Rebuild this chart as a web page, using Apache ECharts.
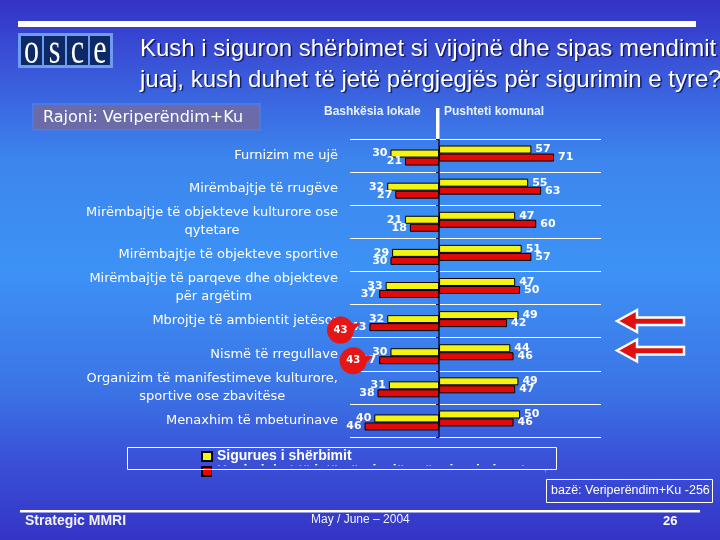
<!DOCTYPE html>
<html><head><meta charset="utf-8">
<script src="https://cdn.jsdelivr.net/npm/echarts@6/dist/echarts.min.js"></script>
<style>html,body{margin:0;padding:0;overflow:hidden}#c{width:720px;height:540px;}</style>
</head><body><div id="c"></div>
<script>
const categories = [
  "Furnizim me ujë",
  "Mirëmbajtje të rrugëve",
  "Mirëmbajtje të objekteve kulturore ose\nqytetare",
  "Mirëmbajtje të objekteve sportive",
  "Mirëmbajtje të parqeve dhe objekteve\npër argëtim",
  "Mbrojtje të ambientit jetësor",
  "Nismë të rregullave",
  "Organizim të manifestimeve kulturore,\nsportive ose zbavitëse",
  "Menaxhim të mbeturinave"
];
const localProvider = [30, 32, 21, 29, 33, 32, 30, 31, 40];
const localResponsible = [21, 27, 18, 30, 37, 43, 37, 38, 46];
const municipalProvider = [57, 55, 47, 51, 47, 49, 44, 49, 50];
const municipalResponsible = [71, 63, 60, 57, 50, 42, 46, 47, 46];
const calloutCategories = [5, 6];
const calloutBars = [43, 37];
const calloutValues = [43, 43];

const nameProvider = "Sigurues i shërbimit";
const nameResponsible = "Kush duhet të jetë përgjegjës për sigurimin e tyre";

const bgStops = [
  {offset: 0, color: '#3332c6'},
  {offset: 0.12, color: '#3a54d8'},
  {offset: 0.3, color: '#3c86ee'},
  {offset: 0.5, color: '#3d92f6'},
  {offset: 0.72, color: '#3b74e6'},
  {offset: 0.86, color: '#3a4fd6'},
  {offset: 1, color: '#3434c6'}
];
const bgGrad = () => ({type: 'linear', x: 0, y: 0, x2: 0, y2: 540, global: true, colorStops: bgStops});

const YELLOW = '#f4f410', RED = '#e00a0a', CALLOUT = '#e61616';
const valLabel = (pos, dist) => ({
  show: true, position: pos, distance: dist, color: '#ffffff',
  fontFamily: 'DejaVu Sans', fontWeight: 'bold', fontSize: 11,
  formatter: p => Math.abs(p.value)
});
const barBase = {type: 'bar', barWidth: 8, barGap: '-50%', yAxisIndex: 0, xAxisIndex: 0};

const chart = echarts.init(document.getElementById('c'), null, {renderer: 'canvas'});
const option = {
  animation: false,
  grid: {left: 350, right: 119, top: 139, height: 298, containLabel: false},
  xAxis: {type: 'value', min: -55, max: 100, show: true,
    axisLine: {show: false}, axisTick: {show: false}, axisLabel: {show: false}, splitLine: {show: false}},
  yAxis: [
    {
      type: 'category', inverse: true, data: categories,
      axisLine: {show: false, onZero: false}, axisTick: {show: false},
      splitLine: {show: true, lineStyle: {color: '#ffffff', width: 1}},
      axisLabel: {
        margin: 12, align: 'right',
        formatter: v => v.split('\n').map(l => '{c|' + l + '}').join('\n'),
        rich: {c: {align: 'center', color: '#ffffff', fontSize: 13, fontFamily: 'DejaVu Sans', lineHeight: 18}}
      }
    },
    {
      type: 'category', inverse: true, data: categories, position: 'left',
      axisLine: {show: true, onZero: true, onZeroAxisIndex: 0, lineStyle: {color: '#101048', width: 1.5}},
      axisTick: {show: true, length: 3, lineStyle: {color: '#101048'}},
      axisLabel: {show: false}, splitLine: {show: false}
    }
  ],
  legend: {
    data: [nameProvider, nameResponsible], orient: 'vertical', left: 201, top: 449,
    padding: 0, itemGap: 0, itemWidth: 10, itemHeight: 9, icon: 'rect',
    textStyle: {color: '#ffffff', fontFamily: 'Liberation Sans', fontWeight: 'bold', fontSize: 14, lineHeight: 15}
  },
  series: [
    Object.assign({}, barBase, {name: nameProvider, data: municipalProvider,
      itemStyle: {color: YELLOW, borderColor: '#000', borderWidth: 1}, label: valLabel('right', 4)}),
    Object.assign({}, barBase, {name: nameProvider, data: localProvider.map(v => -v),
      itemStyle: {color: YELLOW, borderColor: '#000', borderWidth: 1}, label: valLabel('left', 3)}),
    Object.assign({}, barBase, {name: nameResponsible, data: municipalResponsible,
      itemStyle: {color: RED, borderColor: '#000', borderWidth: 1}, label: valLabel('right', 4)}),
    Object.assign({}, barBase, {name: nameResponsible, data: localResponsible.map(v => -v),
      itemStyle: {color: RED, borderColor: '#000', borderWidth: 1}, label: valLabel('left', 3),
      markPoint: {
        itemStyle: {color: CALLOUT},
        label: {show: true, color: '#ffffff', fontSize: 10, fontWeight: 'bold', fontFamily: 'DejaVu Sans', formatter: p => p.value},
        data: [
          {coord: [-calloutBars[0], calloutCategories[0]], symbol: 'triangle', symbolSize: [11, 13], symbolRotate: -65, symbolOffset: [-15, -1], label: {show: false}},
          {coord: [-calloutBars[1], calloutCategories[1]], symbol: 'triangle', symbolSize: [11, 13], symbolRotate: -65, symbolOffset: [-12, -2], label: {show: false}},
          {coord: [-calloutBars[0], calloutCategories[0]], value: calloutValues[0], symbol: 'circle', symbolSize: 27, symbolOffset: [-29, 3]},
          {coord: [-calloutBars[1], calloutCategories[1]], value: calloutValues[1], symbol: 'circle', symbolSize: 27, symbolOffset: [-26, 0.5]}
        ]
      }})
  ],
  graphic: [
    {type: 'rect', z: -100, silent: true, shape: {x: 0, y: 0, width: 720, height: 540}, style: {fill: bgGrad()}},
    {type: 'rect', z: 10, shape: {x: 18, y: 21, width: 678, height: 6}, style: {fill: '#ffffff'}},
    // OSCE logo
    {type: 'rect', z: 10, shape: {x: 18, y: 33, width: 95, height: 35}, style: {fill: '#6d9cf2'}},
    {type: 'rect', z: 11, shape: {x: 21, y: 36, width: 21, height: 29}, style: {fill: '#0e2a66'}},
    {type: 'rect', z: 11, shape: {x: 44, y: 36, width: 21, height: 29}, style: {fill: '#0e2a66'}},
    {type: 'rect', z: 11, shape: {x: 67, y: 36, width: 21, height: 29}, style: {fill: '#0e2a66'}},
    {type: 'rect', z: 11, shape: {x: 90, y: 36, width: 20, height: 29}, style: {fill: '#0e2a66'}},
    {type: 'text', z: 12, x: 31.5, y: 51, scaleY: 1.5, style: {text: 'o', fill: '#ffffff', font: '30px "Liberation Serif"', textAlign: 'center', textVerticalAlign: 'middle'}},
    {type: 'text', z: 12, x: 54.5, y: 51, scaleY: 1.5, style: {text: 's', fill: '#ffffff', font: '30px "Liberation Serif"', textAlign: 'center', textVerticalAlign: 'middle'}},
    {type: 'text', z: 12, x: 77.5, y: 51, scaleY: 1.5, style: {text: 'c', fill: '#ffffff', font: '30px "Liberation Serif"', textAlign: 'center', textVerticalAlign: 'middle'}},
    {type: 'text', z: 12, x: 100, y: 51, scaleY: 1.5, style: {text: 'e', fill: '#ffffff', font: '30px "Liberation Serif"', textAlign: 'center', textVerticalAlign: 'middle'}},
    // Title
    {type: 'text', z: 12, x: 140, y: 49, style: {text: 'Kush i siguron shërbimet si vijojnë dhe sipas mendimit', fill: '#ffffff', font: '24px "Liberation Sans"', textVerticalAlign: 'middle', textShadowColor: 'rgba(0,0,50,0.75)', textShadowOffsetX: 1.5, textShadowOffsetY: 1.5, textShadowBlur: 1}},
    {type: 'text', z: 12, x: 140, y: 80, style: {text: 'juaj, kush duhet të jetë përgjegjës për sigurimin e tyre?', fill: '#ffffff', font: '24px "Liberation Sans"', textVerticalAlign: 'middle', textShadowColor: 'rgba(0,0,50,0.75)', textShadowOffsetX: 1.5, textShadowOffsetY: 1.5, textShadowBlur: 1}},
    // Region box
    {type: 'rect', z: 10, shape: {x: 33, y: 104, width: 227, height: 26}, style: {fill: '#6a6ba8', stroke: '#4a7ae6', lineWidth: 2}},
    {type: 'text', z: 12, x: 43, y: 118, style: {text: 'Rajoni: Veriperëndim+Ku', fill: '#ffffff', font: '16px "DejaVu Sans"', textVerticalAlign: 'middle'}},
    // Column headers
    {type: 'text', z: 12, x: 324, y: 112, style: {text: 'Bashkësia lokale', fill: '#e6f2ff', font: 'bold 12px "Liberation Sans"', textVerticalAlign: 'middle'}},
    {type: 'text', z: 12, x: 444, y: 112, style: {text: 'Pushteti komunal', fill: '#e6f2ff', font: 'bold 12px "Liberation Sans"', textVerticalAlign: 'middle'}},
    {type: 'rect', z: 10, shape: {x: 436, y: 108, width: 3.5, height: 31}, style: {fill: '#ffffff'}},
    // Arrows
    {type: 'polygon', z: 10, shape: {points: [[617, 321], [637, 310], [637, 317.5], [684, 317.5], [684, 325], [637, 325], [637, 332]]}, style: {fill: '#e01010', stroke: '#ffffff', lineWidth: 2.5}},
    {type: 'polygon', z: 10, shape: {points: [[617, 350.5], [637, 339.5], [637, 347], [684, 347], [684, 354.5], [637, 354.5], [637, 361.5]]}, style: {fill: '#e01010', stroke: '#ffffff', lineWidth: 2.5}},
    // Legend box + cover for clipped second legend line
    {type: 'rect', z: 100, silent: true, shape: {x: 212, y: 465.5, width: 333, height: 24}, style: {fill: bgGrad()}},
    {type: 'rect', z: 101, shape: {x: 127.5, y: 447.5, width: 429, height: 22}, style: {fill: 'none', stroke: '#ffffff', lineWidth: 1}},
    // Base box
    {type: 'rect', z: 10, shape: {x: 546.5, y: 479.5, width: 166, height: 23}, style: {fill: 'none', stroke: '#ffffff', lineWidth: 1}},
    {type: 'text', z: 12, x: 551, y: 491, style: {text: 'bazë: Veriperëndim+Ku -256', fill: '#ffffff', font: '12.5px "Liberation Sans Narrow", "Liberation Sans"', textVerticalAlign: 'middle'}},
    // Footer
    {type: 'rect', z: 10, shape: {x: 20, y: 510, width: 680, height: 2.5}, style: {fill: '#ffffff'}},
    {type: 'text', z: 12, x: 25, y: 521, style: {text: 'Strategic MMRI', fill: '#f2f2ff', font: 'bold 14px "Liberation Sans"', textVerticalAlign: 'middle'}},
    {type: 'text', z: 12, x: 311, y: 520, style: {text: 'May / June – 2004', fill: '#f2f2ff', font: '12px "Liberation Sans Narrow", "Liberation Sans"', textVerticalAlign: 'middle'}},
    {type: 'text', z: 12, x: 663, y: 521, style: {text: '26', fill: '#ffffff', font: 'bold 13px "Liberation Sans Narrow", "Liberation Sans"', textVerticalAlign: 'middle'}}
  ]
};
chart.setOption(option);
</script>
</body></html>
